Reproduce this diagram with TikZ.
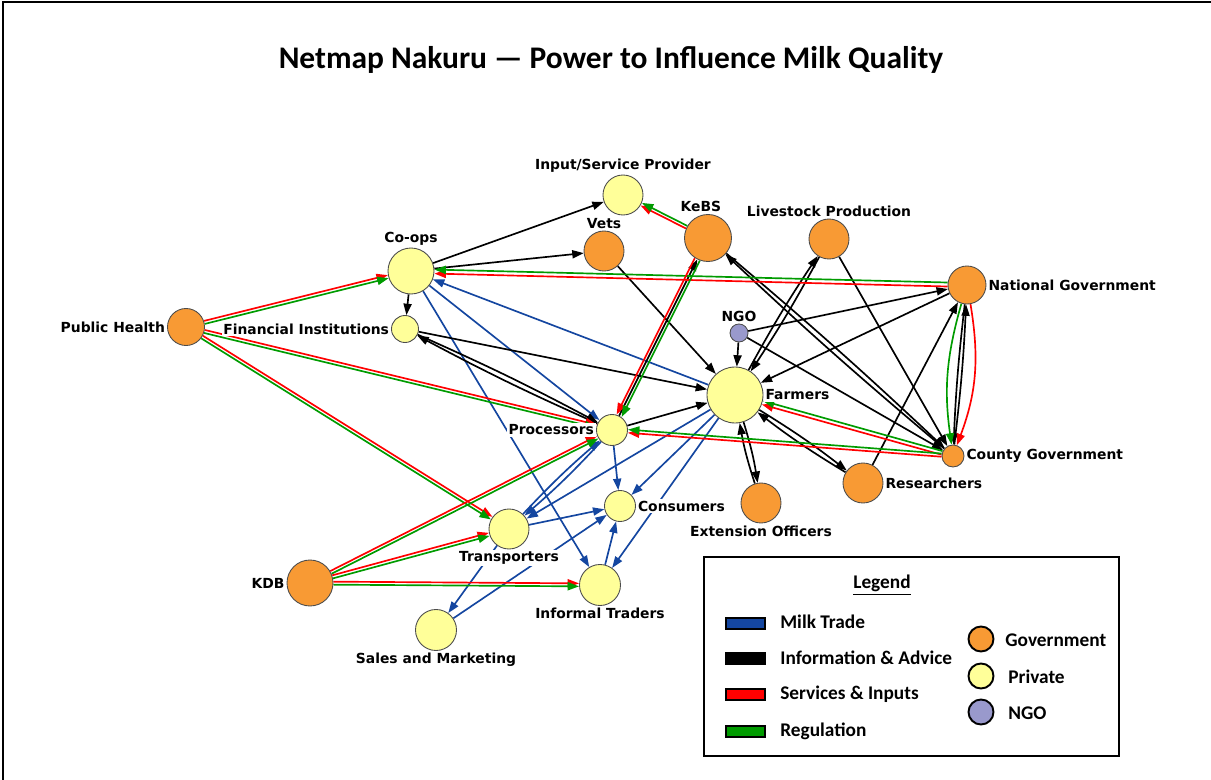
\documentclass[tikz,border=0pt]{standalone}
\usepackage{fontspec}
\setmainfont{DejaVu Sans}
\newfontfamily\calfont[Ligatures=TeX]{Carlito}
\usetikzlibrary{arrows.meta,backgrounds,positioning}

\definecolor{govorange}{RGB}{248,154,52}
\definecolor{privyellow}{RGB}{255,255,153}
\definecolor{ngoviolet}{RGB}{153,153,204}
\definecolor{tradeblue}{RGB}{20,70,160}
\definecolor{reggreen}{RGB}{0,155,0}

\begin{document}
\begin{tikzpicture}[x=0.02cm,y=-0.02cm,>={Triangle[length=6.5pt,width=4.6pt]}]
  \tikzset{
  actor/.style = {circle, draw=black!70, line width=0.5pt, inner sep=0pt},
  sz/.style = {minimum size=#1*0.02cm},
  gov/.style = {actor, fill=govorange},
  priv/.style = {actor, fill=privyellow},
  ngo/.style = {actor, fill=ngoviolet},
  lbl/.style = {font=\bfseries\fontsize{7.9}{9}\selectfont, fill=white, inner sep=1pt},
  legtxt/.style = {font=\calfont\bfseries\fontsize{11}{13}\selectfont, anchor=west, inner sep=0pt},
  trade/.style = {->, tradeblue, line width=0.95pt},
  info/.style = {->, black, line width=0.95pt},
  svc/.style = {->, red, line width=0.95pt},
  reg/.style = {->, reggreen, line width=0.95pt},
  nudge/.style = {transform canvas={shift={(#1)}}}
}
\useasboundingbox (0,0) rectangle (1211,780);
\draw[line width=1.6pt] (2,2) -- (1211,2);
\draw[line width=0.9pt] (3,2) -- (3,780);

\node[font=\calfont\bfseries\fontsize{17.9}{21}\selectfont] (title) at (611,60)
  {Netmap Nakuru — Power to Influence Milk Quality};

% actors
\node[priv, sz=40, label={[lbl]above:Input/Service Provider}] (isp) at (623,195) {};
\node[gov, sz=40, label={[lbl]above:Vets}] (vets) at (604,251) {};
\node[gov, sz=47, label={[lbl,xshift=-4pt]above:KeBS}] (kebs) at (708,238) {};
\node[gov, sz=40, label={[lbl]above:Livestock Production}] (lp) at (829,239) {};
\node[priv, sz=46, label={[lbl]above:Co-ops}] (coops) at (411,271) {};
\node[gov, sz=38, label={[lbl]right:National Government}] (natgov) at (967,285) {};
\node[gov, sz=37, label={[lbl]left:Public Health}] (ph) at (186,327) {};
\node[priv, sz=27, label={[lbl]left:Financial Institutions}] (fin) at (405,329) {};
\node[ngo, sz=18, label={[lbl]above:NGO}] (ngo) at (739,333) {};
\node[priv, sz=56, label={[lbl]right:Farmers}] (farm) at (735,395) {};
\node[priv, sz=31, label={[lbl]left:Processors}] (proc) at (612,430) {};
\node[gov, sz=22, label={[lbl]right:County Government}] (county) at (953,456) {};
\node[gov, sz=40, label={[lbl]right:Researchers}] (res) at (863,483) {};
\node[gov, sz=40, label={[lbl]below:Extension Officers}] (ext) at (761,503) {};
\node[priv, sz=31, label={[lbl]right:Consumers}] (cons) at (620,506) {};
\node[priv, sz=40, label={[lbl]below:Transporters}] (trans) at (509,529) {};
\node[gov, sz=46, label={[lbl]left:KDB}] (kdb) at (310,583) {};
\node[priv, sz=41, label={[lbl]below:Informal Traders}] (inf) at (600,585) {};
\node[priv, sz=41, label={[lbl]below:Sales and Marketing}] (sales) at (436,630) {};

\begin{scope}[on background layer]
% milk trade
\path[trade] (farm) edge (coops)
  (coops) edge (proc)
  (coops) edge (inf)
  (trans) edge[bend left=3] (proc)
  (proc) edge[bend left=3] (trans)
  (farm) edge (trans)
  (trans) edge (cons)
  (proc) edge (cons)
  (farm) edge (cons)
  (farm) edge (inf)
  (inf) edge (cons)
  (sales) edge (cons)
  (trans) edge (sales);
% information and advice
\path[info] (coops) edge (isp)
  (coops) edge (vets)
  (coops) edge (fin)
  (vets) edge (farm)
  (kebs) edge[bend left=1.5] (county)
  (county) edge[bend left=1.5] (kebs)
  (proc) edge (kebs)
  (lp) edge[bend left=2.5] (farm)
  (farm) edge[bend left=2.5] (lp)
  (lp) edge (county)
  (ngo) edge (farm)
  (ngo) edge (natgov)
  (ngo) edge (county)
  (natgov) edge (farm)
  (fin) edge (farm)
  (fin) edge[bend left=2] (proc)
  (proc) edge[bend left=2] (fin)
  (proc) edge (farm)
  (farm) edge[bend left=4] (ext)
  (ext) edge[bend left=4] (farm)
  (farm) edge[bend left=3] (res)
  (res) edge[bend left=3] (farm)
  (res) edge (natgov)
  (natgov) edge[bend right=2] (county)
  (county) edge[bend right=2] (natgov);
% services & inputs / regulation, side by side
\draw[svc, nudge={-0.4,-1.5}] (ph) -- (coops);
\draw[reg, nudge={0.4,1.5}] (ph) -- (coops);
\draw[svc, nudge={0.35,-1.5}] (ph) -- (proc);
\draw[reg, nudge={-0.35,1.5}] (ph) -- (proc);
\draw[svc, nudge={0.8,-1.3}] (ph) -- (trans);
\draw[reg, nudge={-0.8,1.3}] (ph) -- (trans);
\draw[svc, nudge={-0.7,-1.3}] (kdb) -- (proc);
\draw[reg, nudge={0.7,1.3}] (kdb) -- (proc);
\draw[svc, nudge={-0.4,-1.5}] (kdb) -- (trans);
\draw[reg, nudge={0.4,1.5}] (kdb) -- (trans);
\draw[svc, nudge={0,-1.5}] (kdb) -- (inf);
\draw[reg, nudge={0,1.5}] (kdb) -- (inf);
\draw[svc, nudge={0,2}] (natgov) -- (coops);
\draw[reg, nudge={0,-2}] (natgov) -- (coops);
\draw[svc, nudge={-0.5,1.8}] (county) -- (farm);
\draw[reg, nudge={0.5,-1.8}] (county) -- (farm);
\draw[svc, nudge={-0.1,1.6}] (county) -- (proc);
\draw[reg, nudge={0.1,-1.6}] (county) -- (proc);
\draw[svc, nudge={-0.7,1.3}] (kebs) -- (isp);
\draw[reg, nudge={0.7,-1.3}] (kebs) -- (isp);
\draw[svc, nudge={-2.5,-1.2}] (kebs) -- (proc);
\draw[reg, nudge={2.5,1.2}] (kebs) -- (proc);
\draw[svc] (natgov) to[bend left=15] (county);
\draw[reg] (natgov) to[bend right=12] (county);
\end{scope}

% legend
\draw[line width=1.4pt] (704,557) rectangle (1119,756);
\node[font=\calfont\bfseries\fontsize{11}{13}\selectfont] (leghead) at (882,585) {\underline{Legend}};
\draw[line width=1.1pt, fill=tradeblue] (726,618) rectangle (765,629);
\draw[line width=1.1pt, fill=black] (726,653) rectangle (765,664);
\draw[line width=1.1pt, fill=red] (726,689) rectangle (765,700);
\draw[line width=1.1pt, fill=reggreen] (726,726) rectangle (765,737);
\node[legtxt] (lt1) at (780,622) {Milk Trade};
\node[legtxt] (lt2) at (780,658) {Information \& Advice};
\node[legtxt] (lt3) at (780,694) {Services \& Inputs};
\node[legtxt] (lt4) at (780,731) {Regulation};
\draw[line width=1.1pt, fill=govorange] (981,639) circle (12.5);
\draw[line width=1.1pt, fill=privyellow] (981,676) circle (12.5);
\draw[line width=1.1pt, fill=ngoviolet] (981,712) circle (12.5);
\node[legtxt] (lc1) at (1005,640) {Government};
\node[legtxt] (lc2) at (1008,677) {Private};
\node[legtxt] (lc3) at (1008,713) {NGO};
\end{tikzpicture}
\end{document}
